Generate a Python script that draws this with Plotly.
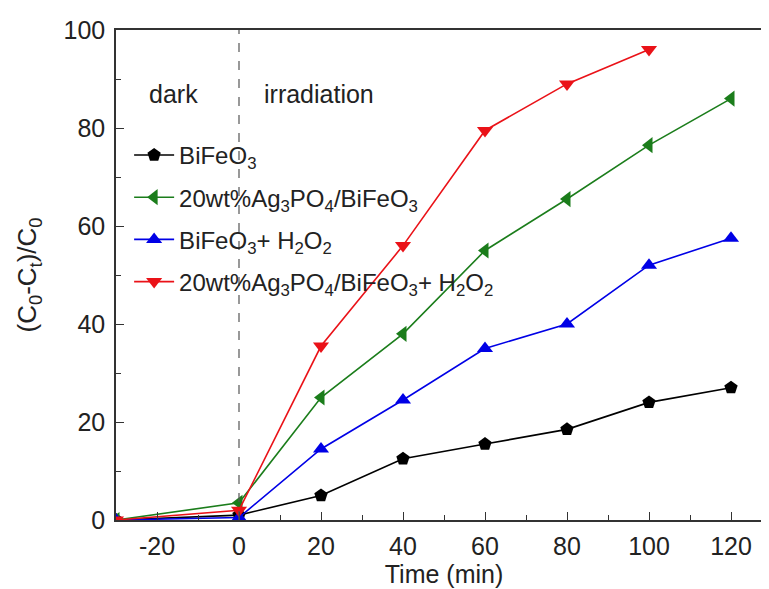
import plotly.graph_objects as go

time = [-30, 0, 20, 40, 60, 80, 100, 120]
time_red = [-30, 0, 20, 40, 60, 80, 100]
bifeo3 = [0, 1.0, 5.0, 12.5, 15.5, 18.5, 24.0, 27.0]
ag_bifeo3 = [0, 3.5, 25.0, 38.0, 55.0, 65.5, 76.5, 86.0]
bifeo3_h2o2 = [0, 0.5, 14.5, 24.5, 35.0, 40.0, 52.0, 57.5]
ag_bifeo3_h2o2 = [0, 2.0, 35.5, 56.0, 79.5, 89.0, 96.0]

x_tickvals = [-20, 0, 20, 40, 60, 80, 100, 120]
x_ticktext = ["-20", "0", "20", "40", "60", "80", "100", "120"]

names = [
    "BiFeO<sub>3</sub>",
    "20wt%Ag<sub>3</sub>PO<sub>4</sub>/BiFeO<sub>3</sub>",
    "BiFeO<sub>3</sub>+ H<sub>2</sub>O<sub>2</sub>",
    "20wt%Ag<sub>3</sub>PO<sub>4</sub>/BiFeO<sub>3</sub>+ H<sub>2</sub>O<sub>2</sub>",
]

FONT = "Arial, Liberation Sans, sans-serif"
fig = go.Figure()

series = [
    (time, bifeo3, "black", "pentagon"),
    (time, ag_bifeo3, "#1b7d1b", "triangle-left"),
    (time, bifeo3_h2o2, "#0000e6", "triangle-up"),
    (time_red, ag_bifeo3_h2o2, "#ea1218", "triangle-down"),
]
for i, ((x, y, c, sym), n) in enumerate(zip(series, names)):
    fig.add_trace(go.Scatter(x=x, y=y, mode="lines+markers", name=n,
                             legendgroup=f"g{i}",
                             line=dict(color=c, width=1.6),
                             marker=dict(symbol=sym, size=14, color=c)))

fig.add_shape(type="line", x0=0, x1=0, y0=0, y1=100, xref="x", yref="y",
              line=dict(color="#555", width=1.2, dash="dash"))
fig.add_annotation(x=-16, y=87, text="dark", showarrow=False,
                   font=dict(size=25, color="#222", family=FONT))
fig.add_annotation(x=19.5, y=87, text="irradiation", showarrow=False,
                   font=dict(size=25, color="#222", family=FONT))

axis_common = dict(showline=True, linecolor="#333", linewidth=1.5, mirror=True,
                   ticks="inside", ticklen=8, tickwidth=1.3, tickcolor="#333",
                   showgrid=False, zeroline=False,
                   tickfont=dict(size=25, color="#222", family=FONT))
fig.update_xaxes(range=[-30, 130], tickvals=x_tickvals, ticktext=x_ticktext,
                 ticklabelstandoff=3,
                 minor=dict(ticks="inside", ticklen=5, dtick=10, tick0=0, tickcolor="#333"),
                 title=dict(text="Time (min)", font=dict(size=25, color="#222", family=FONT), standoff=0),
                 **axis_common)
fig.update_yaxes(range=[0, 100], dtick=20, ticklabelstandoff=4,
                 minor=dict(ticks="inside", ticklen=5, dtick=10, tickcolor="#333"),
                 title=dict(text="(C<sub>0</sub>-C<sub>t</sub>)/C<sub>0</sub>",
                            font=dict(size=26, color="#222", family=FONT), standoff=19),
                 **axis_common)

fig.update_layout(
    width=769, height=589,
    margin=dict(l=108, r=3, t=22, b=77),
    plot_bgcolor="white", paper_bgcolor="white",
    font=dict(family=FONT, color="#222"),
    legend=dict(x=0.02, y=0.79, xanchor="left", yanchor="top",
                bgcolor="rgba(0,0,0,0)", font=dict(size=24, family=FONT, color="#222"),
                itemwidth=40, tracegroupgap=8),
    showlegend=True,
)

fig.write_html("out.html")
